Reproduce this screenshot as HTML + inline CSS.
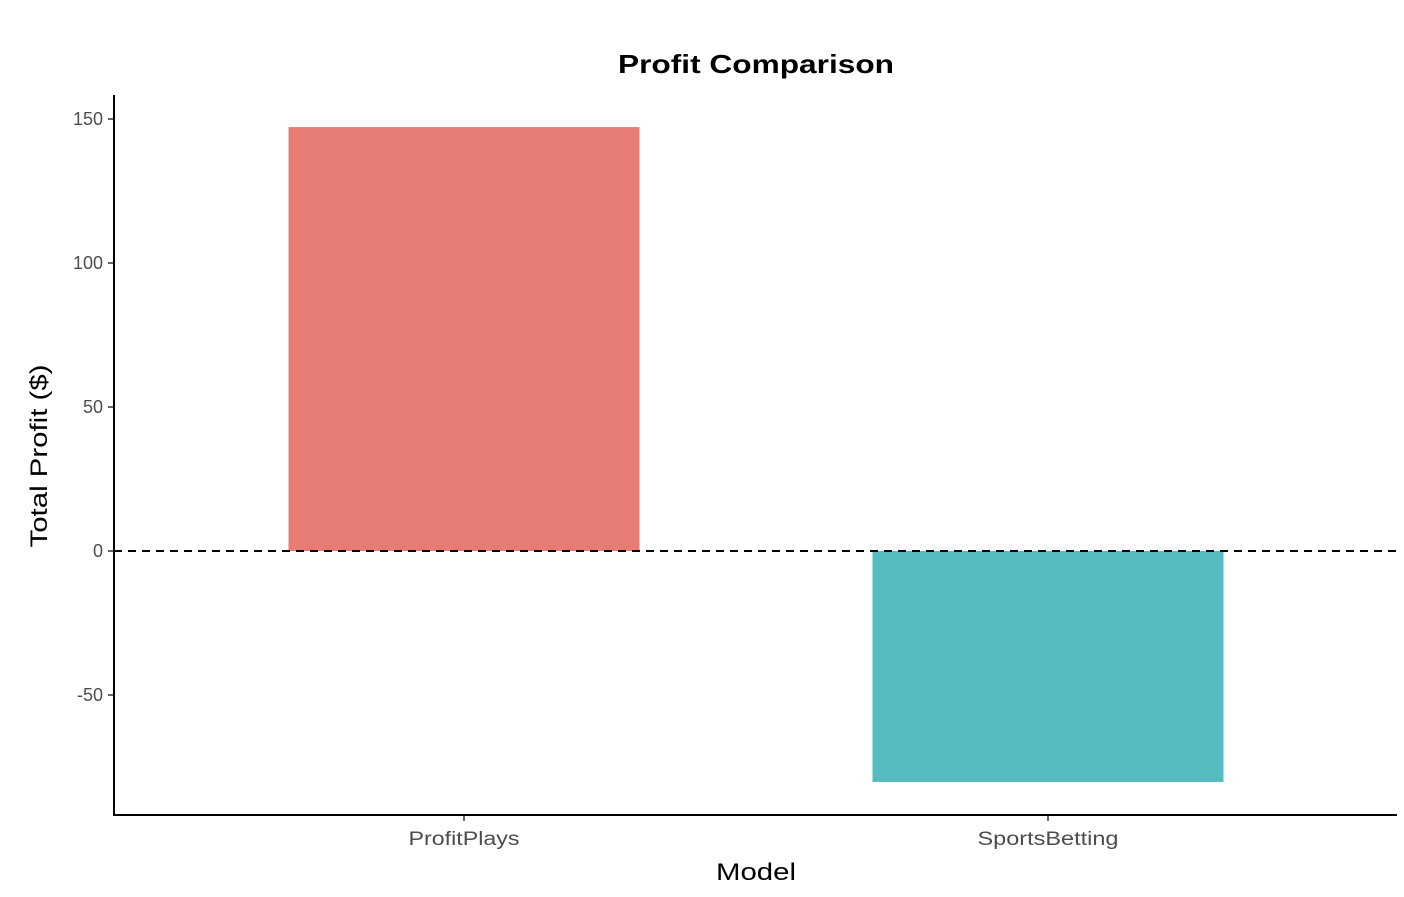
<!DOCTYPE html>
<html><head><meta charset="utf-8"><style>
html,body{margin:0;padding:0;background:#fff;}
svg text{font-family:"Liberation Sans",Arial,sans-serif;}
</style></head><body>
<svg id="chart" width="1404" height="892" xmlns="http://www.w3.org/2000/svg">
<text x="756" y="73" text-anchor="middle" font-size="26" font-weight="bold" fill="#000" textLength="276" lengthAdjust="spacingAndGlyphs">Profit Comparison</text>
<g id="bars"></g>
<g id="yticks"></g>
<g id="xticks"></g>
<line x1="114" y1="95" x2="114" y2="816" stroke="#000" stroke-width="2"/>
<line x1="113" y1="815" x2="1397" y2="815" stroke="#000" stroke-width="2"/>
<text transform="translate(47,456) rotate(-90)" text-anchor="middle" font-size="24" fill="#000" textLength="183" lengthAdjust="spacingAndGlyphs">Total Profit ($)</text>
<text x="756" y="880" text-anchor="middle" font-size="24" fill="#000" textLength="80" lengthAdjust="spacingAndGlyphs">Model</text>
</svg>
<script>
const categories = ["ProfitPlays", "SportsBetting"];
const profits = [147.2, -80.2];
const colors = ["#E67C73", "#56BCC2"];
const yTicks = [-50, 0, 50, 100, 150];
const xLabelLen = [111, 141];

const NS = "http://www.w3.org/2000/svg";
function y(v){ return 551 - v * 2.88; }
function x(i){ return 464 + i * 584; }
const bw = 351;
const bars = document.getElementById("bars");
categories.forEach((c, i) => {
  const v = profits[i];
  const r = document.createElementNS(NS, "rect");
  r.setAttribute("x", x(i) - bw / 2);
  r.setAttribute("y", Math.min(y(v), y(0)));
  r.setAttribute("width", bw);
  r.setAttribute("height", Math.abs(y(v) - y(0)));
  r.setAttribute("fill", colors[i]);
  
  
  bars.appendChild(r);
});
const zl = document.createElementNS(NS, "line");
zl.setAttribute("x1", 114); zl.setAttribute("x2", 1397);
zl.setAttribute("y1", y(0)); zl.setAttribute("y2", y(0));
zl.setAttribute("stroke", "#000"); zl.setAttribute("stroke-width", "2");
zl.setAttribute("stroke-dasharray", "8,6");


bars.appendChild(zl);

const yt = document.getElementById("yticks");
yTicks.forEach(t => {
  const l = document.createElementNS(NS, "line");
  l.setAttribute("x1", 108); l.setAttribute("x2", 114);
  l.setAttribute("y1", y(t)); l.setAttribute("y2", y(t));
  l.setAttribute("stroke", "#333"); l.setAttribute("stroke-width", "1.5");
  
  
  yt.appendChild(l);
  const tx = document.createElementNS(NS, "text");
  tx.setAttribute("x", 103); tx.setAttribute("y", y(t) + 6);
  tx.setAttribute("text-anchor", "end"); tx.setAttribute("font-size", "18");
  tx.setAttribute("fill", "#4d4d4d");
  tx.textContent = t;
  
  
  yt.appendChild(tx);
});
const xt = document.getElementById("xticks");
categories.forEach((c, i) => {
  const l = document.createElementNS(NS, "line");
  l.setAttribute("x1", x(i)); l.setAttribute("x2", x(i));
  l.setAttribute("y1", 815); l.setAttribute("y2", 821);
  l.setAttribute("stroke", "#333"); l.setAttribute("stroke-width", "1.5");
  
  
  xt.appendChild(l);
  const tx = document.createElementNS(NS, "text");
  tx.setAttribute("x", x(i)); tx.setAttribute("y", 845);
  tx.setAttribute("text-anchor", "middle"); tx.setAttribute("font-size", "19");
  tx.setAttribute("fill", "#4d4d4d");
  tx.setAttribute("textLength", xLabelLen[i]);
  tx.setAttribute("lengthAdjust", "spacingAndGlyphs");
  tx.textContent = c;
  
  
  xt.appendChild(tx);
});
</script>
</body></html>
